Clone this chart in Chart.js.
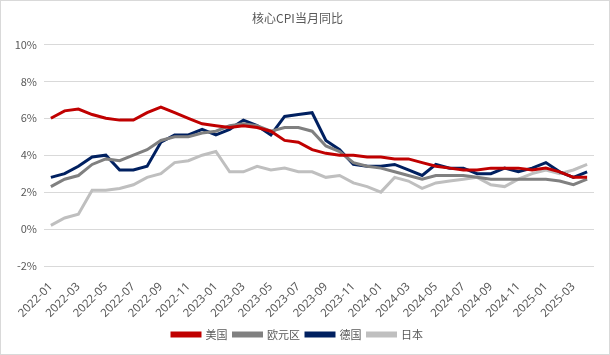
<!DOCTYPE html>
<html><head><meta charset="utf-8">
<script src="https://cdn.jsdelivr.net/npm/chart.js@4"></script>
<style>
html,body{margin:0;padding:0;background:#fff;}
#wrap{width:610px;height:355px;box-sizing:border-box;border:1px solid #d9d9d9;}
canvas{display:block;}
</style></head>
<body><div id="wrap"><canvas id="c" width="608" height="353"></canvas></div>
<script>
const months = [
 '2022-01','2022-02','2022-03','2022-04','2022-05','2022-06','2022-07','2022-08','2022-09','2022-10','2022-11','2022-12',
 '2023-01','2023-02','2023-03','2023-04','2023-05','2023-06','2023-07','2023-08','2023-09','2023-10','2023-11','2023-12',
 '2024-01','2024-02','2024-03','2024-04','2024-05','2024-06','2024-07','2024-08','2024-09','2024-10','2024-11','2024-12',
 '2025-01','2025-02','2025-03','2025-04'];
const usValues = [6.0,6.4,6.5,6.2,6.0,5.9,5.9,6.3,6.6,6.3,6.0,5.7,
 5.6,5.5,5.6,5.5,5.3,4.8,4.7,4.3,4.1,4.0,4.0,3.9,
 3.9,3.8,3.8,3.6,3.4,3.3,3.2,3.2,3.3,3.3,3.3,3.2,
 3.3,3.1,2.8,2.8];
const euroValues = [2.3,2.7,2.9,3.5,3.8,3.7,4.0,4.3,4.8,5.0,5.0,5.2,
 5.3,5.6,5.7,5.6,5.3,5.5,5.5,5.3,4.5,4.2,3.6,3.4,
 3.3,3.1,2.9,2.7,2.9,2.9,2.9,2.8,2.7,2.7,2.7,2.7,
 2.7,2.6,2.4,2.7];
const germanyValues = [2.8,3.0,3.4,3.9,4.0,3.2,3.2,3.4,4.7,5.1,5.1,5.4,
 5.1,5.4,5.9,5.6,5.1,6.1,6.2,6.3,4.8,4.3,3.5,3.4,
 3.4,3.5,3.2,2.9,3.5,3.3,3.3,3.0,3.0,3.3,3.1,3.3,
 3.6,3.1,2.8,3.1];
const japanValues = [0.2,0.6,0.8,2.1,2.1,2.2,2.4,2.8,3.0,3.6,3.7,4.0,
 4.2,3.1,3.1,3.4,3.2,3.3,3.1,3.1,2.8,2.9,2.5,2.3,
 2.0,2.8,2.6,2.2,2.5,2.6,2.7,2.8,2.4,2.3,2.7,3.0,
 3.2,3.0,3.2,3.5];
const seriesNames = ['美国','欧元区','德国','日本'];
const yTicks = [-2,0,2,4,6,8,10];
const titleText = '核心CPI当月同比';

const colors = ['#C00000','#808080','#002060','#BFBFBF'];
const allValues = [usValues, euroValues, germanyValues, japanValues];
const fontFam = '"Noto Sans CJK SC","Noto Sans",sans-serif';
const txt = '#595959';

new Chart(document.getElementById('c'), {
  type: 'line',
  data: {
    labels: months,
    datasets: seriesNames.map((n,i)=>({
      label: n, data: allValues[i], borderColor: colors[i], backgroundColor: colors[i],
      borderWidth: 3, pointRadius: 0, tension: 0, fill: false
    }))
  },
  options: {
    responsive: false, animation: false,
    layout: { padding: { left: 0, right: 15, top: 0, bottom: 4 } },
    plugins: {
      title: { display: true, text: titleText, color: txt, font: { family: fontFam, size: 12, weight: 'normal' }, padding: { top: 10, bottom: 19 } },
      legend: { position: 'bottom', labels: { color: txt, font: { family: fontFam, size: 11 }, boxWidth: 28, boxHeight: 3, padding: 6 } },
      tooltip: { enabled: false }
    },
    scales: {
      x: {
        offset: true,
        grid: { display: false },
        border: { display: false },
        afterFit: s => { s.height = 57; },
        ticks: {
          autoSkip: false, maxRotation: 45, minRotation: 45, color: txt, padding: 6,
          font: { family: '"Noto Sans",sans-serif', size: 11.5 },
          callback: function(v, i){ return i % 2 === 0 ? months[i] : ''; }
        }
      },
      y: {
        min: -2, max: 10,
        afterBuildTicks: s => { s.ticks = yTicks.map(v=>({value:v})); },
        afterFit: s => { s.width = 43; },
        grid: { color: '#d9d9d9', drawTicks: false },
        border: { display: false },
        ticks: { color: txt, padding: 7, font: { family: fontFam, size: 11 }, callback: v => v + '%' }
      }
    }
  }
});
</script></body></html>
